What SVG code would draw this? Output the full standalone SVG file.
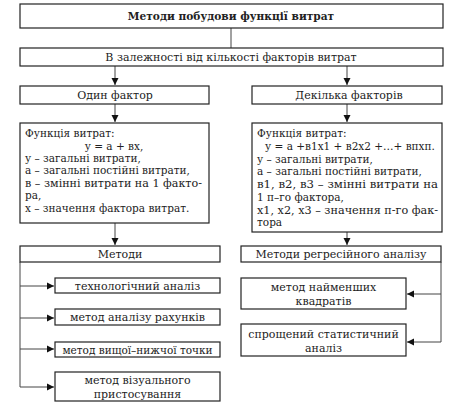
<svg xmlns="http://www.w3.org/2000/svg" width="462" height="414" viewBox="0 0 462 414">
<style>
rect{fill:#fff;stroke:#222;stroke-width:1.2}
text{font-family:"DejaVu Serif","Liberation Serif",serif;font-size:11px;fill:#222}
.c{text-anchor:middle}
.b{font-size:10.5px}
.t{font-weight:bold;font-size:10.6px}
.ln{stroke:#444;stroke-width:1;fill:none}
</style>
<defs>
<marker id="ah" markerWidth="8" markerHeight="8" refX="7" refY="4" orient="auto" markerUnits="userSpaceOnUse">
<path d="M0,0.5 L7,4 L0,7.5 Z" fill="#111"/>
</marker>
</defs>
<rect x="0" y="0" width="462" height="414" style="fill:#fff;stroke:none"/>
<g id="connectors">
<path class="ln" d="M231,28 V48"/>
<path class="ln" d="M115,66 V85" marker-end="url(#ah)"/>
<path class="ln" d="M347,66 V85" marker-end="url(#ah)"/>
<path class="ln" d="M115,104 V122" marker-end="url(#ah)"/>
<path class="ln" d="M347,104 V122" marker-end="url(#ah)"/>
<path class="ln" d="M115,223 V245" marker-end="url(#ah)"/>
<path class="ln" d="M347,232 V245" marker-end="url(#ah)"/>
<path class="ln" d="M20,262 V387"/>
<path class="ln" d="M20,286 H54" marker-end="url(#ah)"/>
<path class="ln" d="M20,318 H54" marker-end="url(#ah)"/>
<path class="ln" d="M20,349 H54" marker-end="url(#ah)"/>
<path class="ln" d="M20,387 H54" marker-end="url(#ah)"/>
<path class="ln" d="M441,262 V342"/>
<path class="ln" d="M441,294 H407" marker-end="url(#ah)"/>
<path class="ln" d="M441,342 H407" marker-end="url(#ah)"/>
</g>
<g id="title">
<rect x="20" y="4" width="423" height="24"/>
<text class="c t" x="231" y="20">Методи побудови функції витрат</text>
</g>
<g id="criterion">
<rect x="20" y="48" width="423" height="18"/>
<text class="c" x="231" y="61">В залежності від кількості факторів витрат</text>
</g>
<g id="one-factor">
<rect x="20" y="86" width="189" height="18"/>
<text class="c" x="115" y="99">Один фактор</text>
</g>
<g id="many-factors">
<rect x="252" y="86" width="190" height="18"/>
<text class="c" x="349" y="99">Декілька факторів</text>
</g>
<g id="one-function">
<rect x="20" y="123" width="189" height="100"/>
<text class="b" x="25" y="137">Функція витрат:</text>
<text class="b c" x="114" y="150">у = а + вх,</text>
<text class="b" x="25" y="162">у – загальні витрати,</text>
<text class="b" x="25" y="174">а – загальні постійні витрати,</text>
<text class="b" x="25" y="187" textLength="177" lengthAdjust="spacingAndGlyphs">в – змінні витрати на 1 факто-</text>
<text class="b" x="25" y="199">ра,</text>
<text class="b" x="25" y="212">х – значення фактора витрат.</text>
</g>
<g id="many-function">
<rect x="252" y="123" width="190" height="109"/>
<text class="b" x="257" y="137">Функція витрат:</text>
<text class="b" x="265" y="150">у = а +в1х1 + в2х2 +…+ впхп.</text>
<text class="b" x="257" y="163">у – загальні витрати,</text>
<text class="b" x="257" y="175">а – загальні постійні витрати,</text>
<text class="b" x="257" y="188" textLength="181" lengthAdjust="spacingAndGlyphs">в1, в2, в3 – змінні  витрати на</text>
<text class="b" x="257" y="201">1 п–го фактора,</text>
<text class="b" x="257" y="214" textLength="181" lengthAdjust="spacingAndGlyphs">х1, х2, х3 – значення п-го фак-</text>
<text class="b" x="257" y="226">тора</text>
</g>
<g id="methods">
<rect x="20" y="246" width="200" height="16"/>
<text class="c" x="120" y="258">Методи</text>
</g>
<g id="m1">
<rect x="55" y="278" width="165" height="15"/>
<text class="c" x="137.5" y="289.5">технологічний аналіз</text>
</g>
<g id="m2">
<rect x="55" y="309" width="165" height="16"/>
<text class="c" x="137.5" y="321">метод аналізу рахунків</text>
</g>
<g id="m3">
<rect x="55" y="342" width="165" height="15"/>
<text class="c b" x="137.5" y="353.5">метод вищої–нижчої точки</text>
</g>
<g id="m4">
<rect x="55" y="372" width="165" height="29"/>
<text class="c" x="137.5" y="383.5">метод візуального</text>
<text class="c" x="137.5" y="397.5">пристосування</text>
</g>
<g id="regression">
<rect x="241" y="246" width="200" height="16"/>
<text class="c" x="341" y="258">Методи регресійного аналізу</text>
</g>
<g id="r1">
<rect x="241" y="278" width="165" height="31"/>
<text class="c" x="323.5" y="291">метод найменших</text>
<text class="c" x="323.5" y="305">квадратів</text>
</g>
<g id="r2">
<rect x="241" y="324" width="165" height="32"/>
<text class="c" x="323.5" y="337.5">спрощений статистичний</text>
<text class="c" x="323.5" y="351.5">аналіз</text>
</g>
</svg>
